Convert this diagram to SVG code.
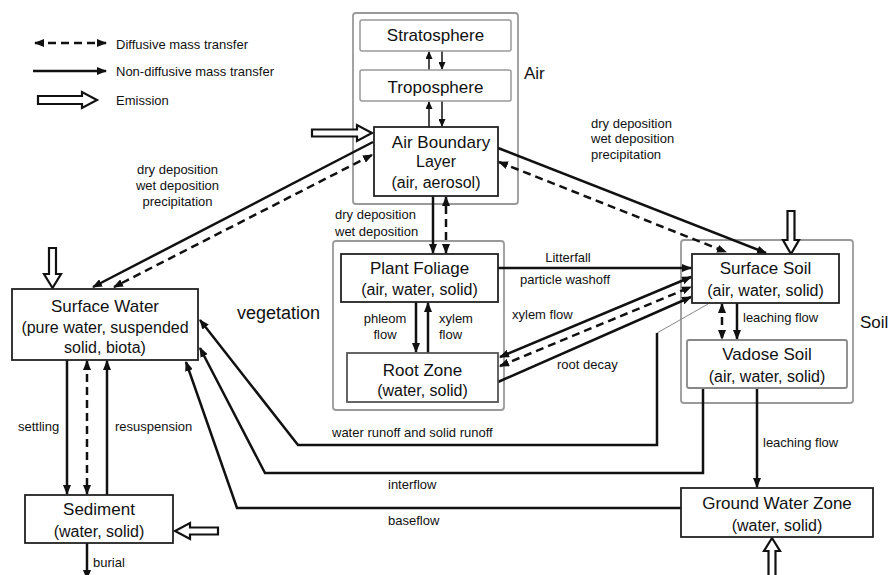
<svg xmlns="http://www.w3.org/2000/svg" width="890" height="575" viewBox="0 0 890 575">
<defs>
<marker id="ah" viewBox="0 0 10 8" refX="9" refY="4" markerWidth="10" markerHeight="8" markerUnits="userSpaceOnUse" orient="auto-start-reverse"><path d="M0,0 L10,4 L0,8 z" fill="#111"/></marker>
<marker id="ahs" viewBox="0 0 8 7" refX="7" refY="3.5" markerWidth="8" markerHeight="7" markerUnits="userSpaceOnUse" orient="auto-start-reverse"><path d="M0,0 L8,3.5 L0,7 z" fill="#111"/></marker>
</defs>
<style>
text{font-family:"Liberation Sans",Arial,sans-serif;fill:#111}
.t{font-size:17px;text-anchor:middle}
.s{font-size:16px;text-anchor:middle}
.l{font-size:13px}
.c{font-size:17px}
.node{fill:#fff;stroke:#222;stroke-width:1.8}
.inner{fill:#fff;stroke:#999;stroke-width:1.5}
.outer{fill:none;stroke:#9a9a9a;stroke-width:1.8}
.ln{fill:none;stroke:#111;stroke-width:2.5}
.thin{fill:none;stroke:#111;stroke-width:1.5}
.d{stroke-dasharray:8 5}
.em{fill:#fff;stroke:#111;stroke-width:2.2}
</style>
<rect width="890" height="575" fill="#fff"/>

<g id="legend">
<line class="ln d" x1="35" y1="43" x2="106" y2="43" marker-start="url(#ah)" marker-end="url(#ah)"/>
<text class="l" x="116" y="48.5">Diffusive mass transfer</text>
<line class="ln" x1="33" y1="71" x2="106" y2="71" marker-end="url(#ah)"/>
<text class="l" x="116" y="75.5">Non-diffusive mass transfer</text>
<polygon class="em" points="38,96 82,96 82,92 97,100 82,108 82,104 38,104"/>
<text class="l" x="116" y="104.5">Emission</text>
</g>

<g id="containers">
<rect id="air" class="outer" x="353" y="13" width="165" height="191" rx="3"/>
<text class="c" x="524" y="79">Air</text>
<rect id="vegetation" class="outer" x="333" y="241" width="171" height="169" rx="3"/>
<text class="c" x="237" y="319" style="font-size:18px">vegetation</text>
<rect id="soil" class="outer" x="681" y="240" width="172" height="163" rx="3"/>
<text class="c" x="860" y="328">Soil</text>
</g>

<g id="connectors">
<!-- air internal -->
<line class="thin" x1="429" y1="70" x2="429" y2="52" marker-end="url(#ahs)"/>
<line class="thin" x1="442" y1="51" x2="442" y2="69" marker-end="url(#ahs)"/>
<line class="thin" x1="429" y1="127" x2="429" y2="102" marker-end="url(#ahs)"/>
<line class="thin" x1="442" y1="101" x2="442" y2="126" marker-end="url(#ahs)"/>
<!-- ABL to plant foliage -->
<line class="ln" x1="433" y1="196" x2="433" y2="253" marker-end="url(#ah)"/>
<line class="ln d" x1="446" y1="253" x2="446" y2="197" marker-start="url(#ah)" marker-end="url(#ah)"/>
<!-- plant to root -->
<line class="ln" x1="416" y1="302" x2="416" y2="352" marker-end="url(#ah)"/>
<line class="ln" x1="428" y1="353" x2="428" y2="303" marker-end="url(#ah)"/>
<!-- ABL to surface water -->
<line class="ln" x1="373" y1="142" x2="93" y2="287" marker-end="url(#ah)"/>
<line class="ln d" x1="372" y1="155" x2="114" y2="287" marker-start="url(#ah)" marker-end="url(#ah)"/>
<!-- ABL to surface soil -->
<line class="ln" x1="498" y1="148" x2="766" y2="253" marker-end="url(#ah)"/>
<line class="ln d" x1="499" y1="162" x2="726" y2="252" marker-start="url(#ah)" marker-end="url(#ah)"/>
<!-- litterfall -->
<line class="ln" x1="498" y1="268" x2="691" y2="268" marker-end="url(#ah)"/>
<!-- root zone <-> surface soil -->
<line class="ln" x1="500" y1="357" x2="691" y2="277" marker-start="url(#ah)" marker-end="url(#ah)"/>
<line class="ln d" x1="500" y1="366" x2="691" y2="287" marker-start="url(#ah)" marker-end="url(#ah)"/>
<line class="ln" x1="498" y1="382" x2="691" y2="297" marker-end="url(#ah)"/>
<!-- surface soil <-> vadose -->
<line class="ln d" x1="722" y1="304" x2="722" y2="339" marker-start="url(#ah)" marker-end="url(#ah)"/>
<line class="ln" x1="737" y1="303" x2="737" y2="339" marker-end="url(#ah)"/>
<!-- vadose to GW -->
<line class="ln" x1="757" y1="388" x2="757" y2="487" marker-end="url(#ah)"/>
<!-- runoff, interflow, baseflow -->
<line x1="657" y1="333" x2="708" y2="304" stroke="#888" stroke-width="1"/>
<polyline class="ln" points="657,333 657,445 298,445 200,320" marker-end="url(#ah)"/>
<polyline class="ln" points="703,388 703,473 265,473 200,348" marker-end="url(#ah)"/>
<polyline class="ln" points="681,508 237,508 186,362" marker-end="url(#ah)"/>
<!-- surface water <-> sediment -->
<line class="ln" x1="67" y1="360" x2="67" y2="494" marker-end="url(#ah)"/>
<line class="ln d" x1="87" y1="361" x2="87" y2="494" marker-start="url(#ah)" marker-end="url(#ah)"/>
<line class="ln" x1="107" y1="495" x2="107" y2="361" marker-end="url(#ah)"/>
<!-- burial -->
<line class="ln" x1="87" y1="543" x2="87" y2="579" marker-end="url(#ah)"/>
<!-- emissions -->
<polygon class="em" points="312,129.5 357,129.5 357,125 372,133 357,141 357,136.5 312,136.5"/>
<polygon class="em" points="49,248 56,248 56,274 61,274 52.5,288 44,274 49,274"/>
<polygon class="em" points="787.5,211 794.5,211 794.5,240 799,240 791,254 783,240 787.5,240"/>
<polygon class="em" points="218,527.5 190,527.5 190,523 175,531 190,539 190,534.5 218,534.5"/>
<polygon class="em" points="768.5,578 775.5,578 775.5,551 780,551 772,538 764,551 768.5,551"/>
</g>

<g id="labels">
<text class="l" x="177.5" y="173.5" text-anchor="middle">dry deposition</text>
<text class="l" x="177.5" y="189.5" text-anchor="middle">wet deposition</text>
<text class="l" x="177.5" y="205.5" text-anchor="middle">precipitation</text>
<text class="l" x="591" y="127.5">dry deposition</text>
<text class="l" x="591" y="142.5">wet deposition</text>
<text class="l" x="591" y="158.5">precipitation</text>
<text class="l" x="335" y="218.5">dry deposition</text>
<text class="l" x="335" y="235.5">wet deposition</text>
<text class="l" x="568" y="261.5" text-anchor="middle">Litterfall</text>
<text class="l" x="565" y="283.5" text-anchor="middle">particle washoff</text>
<text class="l" x="512" y="318.5">xylem flow</text>
<text class="l" x="557" y="368.5">root decay</text>
<text class="l" x="385" y="322.5" text-anchor="middle">phleom</text>
<text class="l" x="385" y="338.5" text-anchor="middle">flow</text>
<text class="l" x="439" y="322.5">xylem</text>
<text class="l" x="439" y="338.5">flow</text>
<text class="l" x="743" y="321.5">leaching flow</text>
<text class="l" x="763" y="446.5">leaching flow</text>
<text class="l" x="332" y="436.5">water runoff and solid runoff</text>
<text class="l" x="388" y="489">interflow</text>
<text class="l" x="388" y="525">baseflow</text>
<text class="l" x="18" y="430.5">settling</text>
<text class="l" x="115" y="430.5">resuspension</text>
<text class="l" x="93" y="566.5">burial</text>
</g>

<g id="stratosphere">
<rect class="inner" x="360" y="20" width="151" height="31" rx="2"/>
<text class="t" x="435.5" y="41">Stratosphere</text>
</g>
<g id="troposphere">
<rect class="inner" x="360" y="70" width="151" height="31" rx="2"/>
<text class="t" x="435.5" y="93">Troposphere</text>
</g>
<g id="air-boundary-layer">
<rect class="node" x="374" y="127" width="124" height="69"/>
<text class="t" x="441" y="148">Air Boundary</text>
<text class="s" x="436" y="167">Layer</text>
<text class="s" x="436" y="188">(air, aerosol)</text>
</g>
<g id="plant-foliage">
<rect class="node" x="341" y="254" width="157" height="48"/>
<text class="t" x="419.5" y="274">Plant Foliage</text>
<text class="s" x="419.5" y="295">(air, water, solid)</text>
</g>
<g id="root-zone">
<rect class="node" x="347" y="353" width="151" height="49" style="stroke:#555"/>
<text class="t" x="422.5" y="376">Root Zone</text>
<text class="s" x="422.5" y="396">(water, solid)</text>
</g>
<g id="surface-water">
<rect class="node" x="12" y="289" width="186" height="71"/>
<text class="t" x="105" y="312">Surface Water</text>
<text class="s" x="105" y="333">(pure water, suspended</text>
<text class="s" x="105" y="353">solid, biota)</text>
</g>
<g id="sediment">
<rect class="node" x="25" y="495" width="148" height="48"/>
<text class="t" x="99" y="515">Sediment</text>
<text class="s" x="99" y="537">(water, solid)</text>
</g>
<g id="surface-soil">
<rect class="node" x="692" y="254" width="147" height="49"/>
<text class="t" x="765.5" y="274">Surface Soil</text>
<text class="s" x="765.5" y="296">(air, water, solid)</text>
</g>
<g id="vadose-soil">
<rect class="node" x="687" y="340" width="160" height="48" rx="2" style="stroke:#888"/>
<text class="t" x="767" y="360">Vadose Soil</text>
<text class="s" x="767" y="382">(air, water, solid)</text>
</g>
<g id="ground-water-zone">
<rect class="node" x="681" y="488" width="192" height="49"/>
<text class="t" x="777" y="509">Ground Water Zone</text>
<text class="s" x="777" y="531">(water, solid)</text>
</g>
</svg>
